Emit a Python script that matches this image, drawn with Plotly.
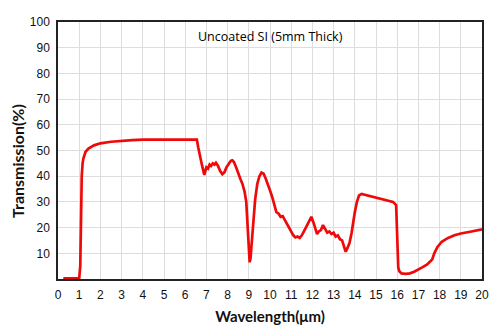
import plotly.graph_objects as go

wavelength = [0.25, 0.6, 1.0, 1.05, 1.08, 1.12, 1.16, 1.2, 1.3, 1.45, 1.7, 2.0, 2.5, 3.0, 3.5, 4.0, 5.0, 6.0, 6.55,
              6.62, 6.68, 6.72, 6.8, 6.9, 6.95, 7.0, 7.08, 7.15, 7.22, 7.3, 7.38, 7.45, 7.55, 7.65, 7.75, 7.85, 7.95,
              8.05, 8.15, 8.22, 8.3, 8.4, 8.5, 8.6, 8.7, 8.8, 8.88, 8.95, 9.0, 9.04, 9.08, 9.13, 9.2, 9.3, 9.4, 9.5,
              9.6, 9.7, 9.8, 9.9, 10.0, 10.1, 10.2, 10.3, 10.4, 10.5, 10.6, 10.7, 10.8, 10.9, 11.0, 11.1, 11.2, 11.3,
              11.4, 11.5, 11.6, 11.7, 11.8, 11.9, 11.95, 12.05, 12.15, 12.22, 12.3, 12.4, 12.5, 12.6, 12.7, 12.8, 12.9,
              13.0, 13.1, 13.2, 13.3, 13.4, 13.5, 13.57, 13.65, 13.75, 13.85, 13.92, 14.0, 14.1, 14.2, 14.32, 14.6,
              15.0, 15.4, 15.8, 15.95, 16.0, 16.05, 16.1, 16.2, 16.4, 16.6, 16.8, 17.0, 17.2, 17.4, 17.55, 17.65,
              17.75, 17.9, 18.1, 18.4, 18.7, 19.0, 19.5, 20.0]
transmission = [0.3, 0.3, 0.3, 5, 25, 40, 45, 47, 49.5, 50.8, 52, 52.8, 53.4, 53.8, 54.0, 54.2, 54.3, 54.3, 54.2,
                51, 49, 47, 44, 40.5, 42, 43.5, 43, 44.5, 44, 45, 44.5, 45.2, 44, 42, 40.8, 41.5, 43.5,
                44.8, 46, 46.2, 45.5, 43.5, 41, 39, 37, 34, 30, 20, 10, 6.5, 8, 13, 22, 31, 37, 40,
                41.4, 41, 39, 37, 34.5, 32, 29, 26, 25.5, 24.2, 24.5, 23, 21.5, 19.5, 18, 17, 16.2, 16.5,
                16, 17, 18.5, 20, 22, 23.5, 24.2, 22, 19.5, 17.5, 18.5, 19, 21, 19.5, 18, 18.5, 17.5,
                18, 16.5, 17, 15.5, 15, 12.5, 10.6, 12, 14, 18, 22, 26, 30, 32.5, 33.1, 32.5,
                31.8, 31, 30, 28.8, 10, 4.5, 3, 2.2, 2.0, 2.2, 2.8, 3.6, 4.6, 5.6, 6.7, 7.6,
                10, 12.5, 14.5, 16, 17, 17.7, 18.5, 19.3]

fig = go.Figure()
fig.add_trace(go.Scatter(x=wavelength, y=transmission, mode="lines",
                         line=dict(color="#ee0a0a", width=2.7), showlegend=False))

fig.add_annotation(text="Uncoated SI (5mm Thick)", x=0.5, y=0.985, xref="paper", yref="paper",
                   xanchor="center", yanchor="top", showarrow=False,
                   font=dict(family="Open Sans", size=12.5, color="#000000"))

fig.add_annotation(text="<b>Transmission(%)</b>", x=-0.094, y=0.46, xref="paper", yref="paper",
                   xanchor="center", yanchor="middle", textangle=-90, showarrow=False,
                   font=dict(family="Lato", size=16, color="#111111"))

axis_common = dict(showline=True, linecolor="#222222", linewidth=1.5, mirror=True,
                   showgrid=True, gridcolor="#dddddd", gridwidth=1, zeroline=False,
                   ticks="", tickfont=dict(family="Liberation Sans", size=12, color="#111111"))

fig.update_xaxes(range=[0, 20], tickvals=list(range(0, 21)), ticklabelstandoff=4,
                 title=dict(text="<b>Wavelength(μm)</b>", font=dict(family="Lato", size=15, color="#111111"),
                            standoff=10),
                 **axis_common)
fig.update_yaxes(range=[0, 100], tickvals=list(range(10, 101, 10)), ticklabelstandoff=4,
                 **axis_common)

fig.update_layout(width=500, height=334, margin=dict(l=58, r=18, t=22, b=55),
                  plot_bgcolor="white", paper_bgcolor="white")

fig.write_html("out.html")
